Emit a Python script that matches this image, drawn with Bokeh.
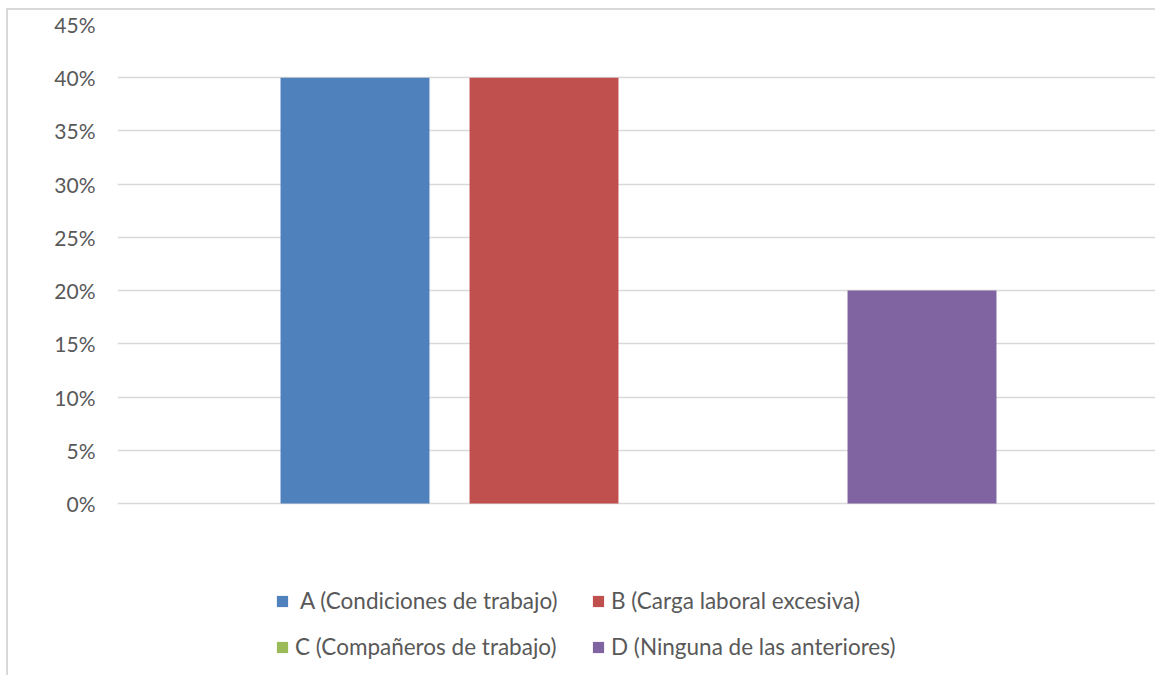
from bokeh.plotting import figure
from bokeh.models import Range1d, NumeralTickFormatter, FixedTicker, Legend, LegendItem, ColumnDataSource
from bokeh.embed import file_html
from bokeh.resources import INLINE

# Survey answers and their share of responses
series = ["A (Condiciones de trabajo)", "B (Carga laboral excesiva)",
          "C (Compañeros de trabajo)", "D (Ninguna de las anteriores)"]
legend_labels = ["\u00a0A (Condiciones de trabajo)", "B (Carga laboral excesiva)",
                 "C (Compañeros de trabajo)", "D (Ninguna de las anteriores)"]
shares = [0.40, 0.40, 0.0, 0.20]
colors = ["#4F81BD", "#C0504D", "#9BBB59", "#8064A2"]
y_ticks = [0.0, 0.05, 0.10, 0.15, 0.20, 0.25, 0.30, 0.35, 0.40, 0.45]

FONT = "Lato"
TEXT = "#595959"

# the lower part of the frame holds the legend, below the 0% line
p = figure(width=1149, height=667, output_backend="svg", toolbar_location=None,
           x_range=Range1d(-1.2566, 4.246), y_range=Range1d(-0.16347, 0.45),
           min_border_left=109, min_border_right=0, min_border_top=14, min_border_bottom=0)
p.styles = {"margin-left": "6px", "margin-top": "8px",
            "border-left": "2px solid #d9d9d9", "border-top": "2px solid #d9d9d9"}
p.outline_line_color = None
p.background_fill_color = "white"
p.border_fill_color = "white"

renderers = []
for i, (name, val, col) in enumerate(zip(series, shares, colors)):
    src = ColumnDataSource(dict(x=[i], top=[val]))
    r = p.vbar(x="x", top="top", bottom=0, width=0.788, source=src,
               fill_color=col, line_color=None)
    renderers.append(r)

p.xaxis.visible = False
p.xgrid.visible = False
p.ygrid.grid_line_color = "#d9d9d9"
p.ygrid.grid_line_width = 1.5
p.ygrid.ticker = FixedTicker(ticks=y_ticks)

ax = p.yaxis[0]
ax.ticker = FixedTicker(ticks=y_ticks)
ax.formatter = NumeralTickFormatter(format="0%")
ax.axis_line_color = None
ax.major_tick_line_color = None
ax.minor_tick_line_color = None
ax.major_label_text_font = FONT
ax.major_label_text_font_size = "21px"
ax.major_label_text_color = TEXT
ax.major_label_standoff = 16

def make_legend(idx, x, y):
    items = [LegendItem(label=legend_labels[i], renderers=[renderers[i]]) for i in idx]
    lg = Legend(items=items, location=(x, y), orientation="vertical",
                padding=0, margin=0, spacing=19,
                glyph_width=14, glyph_height=14, label_height=22,
                label_standoff=6, label_text_font=FONT, label_text_font_size="22.5px",
                label_text_color=TEXT, border_line_color=None,
                background_fill_alpha=0)
    p.add_layout(lg, "center")

make_legend([0, 2], 158, 17)
make_legend([1, 3], 474, 17)

open("out.html", "w").write(file_html(p, INLINE))
